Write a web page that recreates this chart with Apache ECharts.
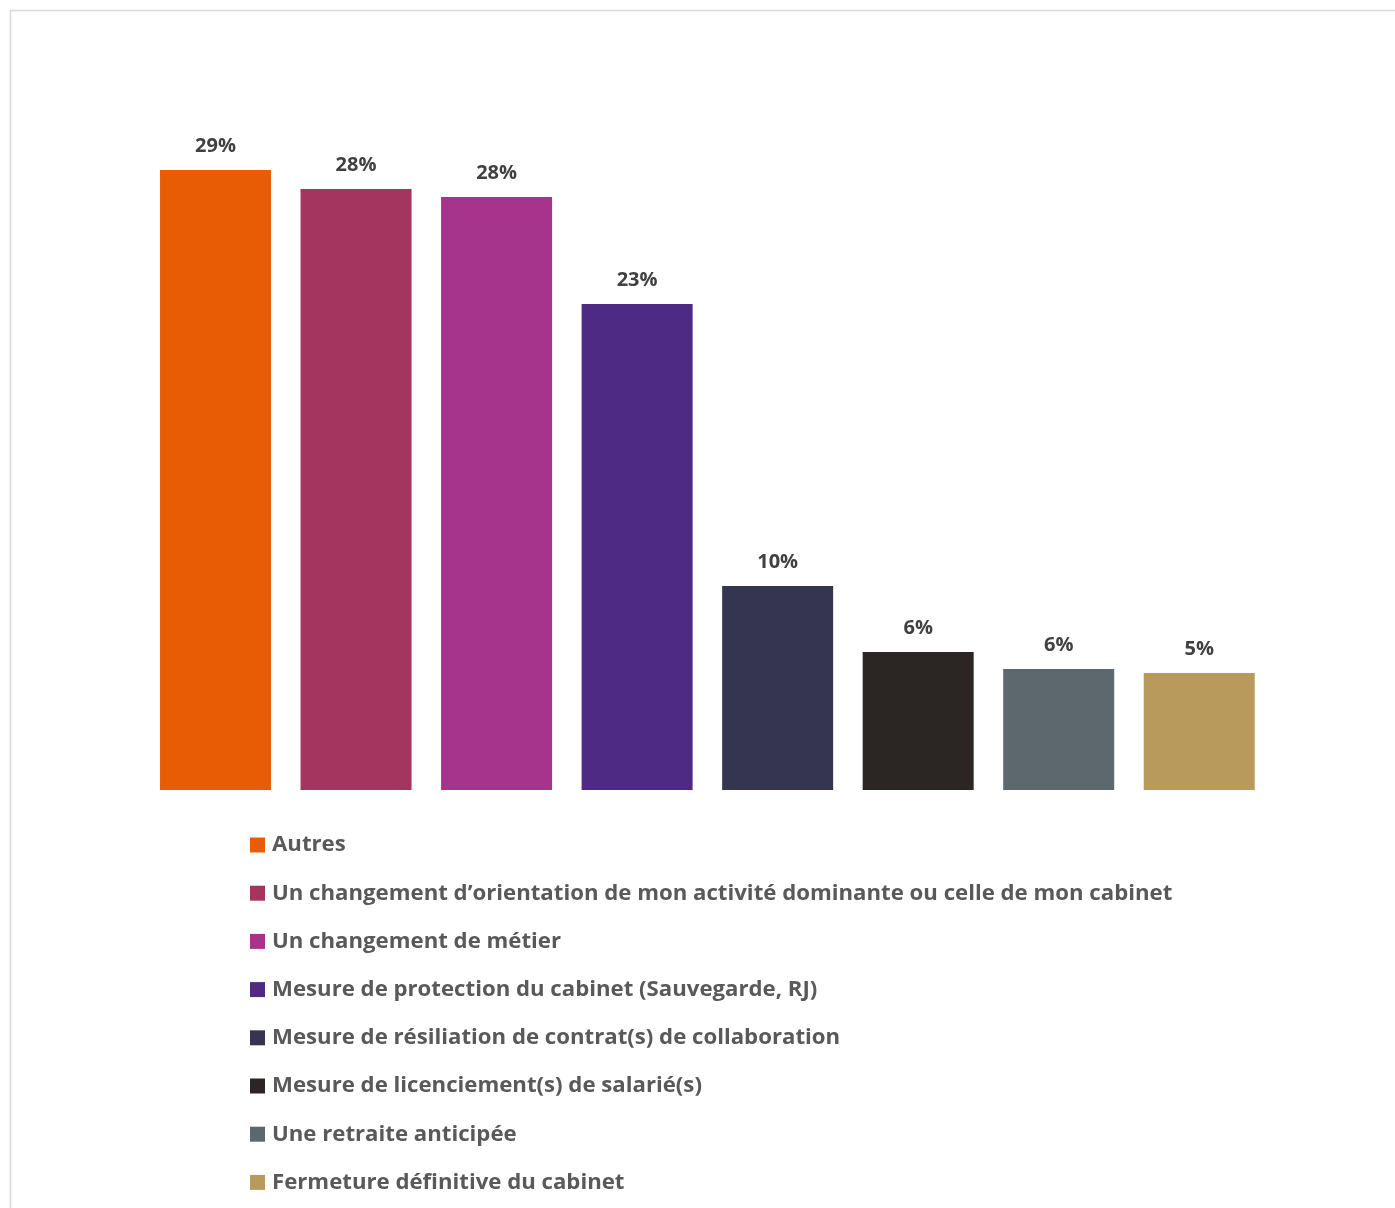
<!DOCTYPE html>
<html>
<head>
<meta charset="utf-8">
<style>
  html, body { margin: 0; padding: 0; background: #ffffff; }
  #chart { width: 1395px; height: 1208px; }
</style>
<script src="https://cdn.jsdelivr.net/npm/echarts@6/dist/echarts.min.js"></script>
</head>
<body>
<div id="chart"></div>
<script>
const categories = [
  "Autres",
  "Un changement d’orientation de mon activité dominante ou celle de mon cabinet",
  "Un changement de métier",
  "Mesure de protection du cabinet (Sauvegarde, RJ)",
  "Mesure de résiliation de contrat(s) de collaboration",
  "Mesure de licenciement(s) de salarié(s)",
  "Une retraite anticipée",
  "Fermeture définitive du cabinet"
];
const values = [28.97, 28.08, 27.71, 22.71, 9.53, 6.45, 5.65, 5.47];
const colors = ["#E95C06", "#A3355E", "#A6348C", "#4E2A84", "#363550", "#2B2624", "#5D686E", "#B89A5C"];

const FONT = "'Open Sans', sans-serif";

const series = categories.map((name, i) => ({
  name: name,
  type: 'bar',
  stack: 'all',
  barWidth: 111,
  itemStyle: { color: colors[i] },
  label: {
    show: true,
    position: 'top',
    distance: 14,
    formatter: p => Math.round(p.value) + '%',
    color: '#404040',
    fontFamily: FONT,
    fontWeight: 'bold',
    fontSize: 20
  },
  emphasis: { disabled: true },
  data: categories.map((c, j) => (j === i ? values[i] : '-'))
}));

const chart = echarts.init(document.getElementById('chart'), null, { renderer: 'canvas' });
chart.setOption({
  animation: false,
  backgroundColor: '#ffffff',
  graphic: [{
    type: 'rect',
    shape: { x: 10.5, y: 10.5, width: 1400, height: 1210 },
    style: { fill: 'none', stroke: '#d9d9d9', lineWidth: 1.5 },
    silent: true,
    z: -10
  }],
  grid: { left: 145.25, right: 125.5, top: 148, bottom: 418, containLabel: false },
  xAxis: {
    type: 'category',
    data: categories,
    show: false
  },
  yAxis: {
    type: 'value',
    min: 0,
    max: 30,
    show: false,
    splitLine: { show: false }
  },
  legend: {
    orient: 'vertical',
    left: 250,
    top: 834,
    padding: 0,
    itemWidth: 15,
    itemHeight: 15,
    itemGap: 26.2,
    icon: 'rect',
    data: categories,
    selectedMode: false,
    textStyle: {
      color: '#595959',
      fontFamily: FONT,
      fontWeight: 'bold',
      fontSize: 22.2,
      lineHeight: 22,
      padding: [0, 0, 0, 2]
    }
  },
  series: series
});
</script>
</body>
</html>
